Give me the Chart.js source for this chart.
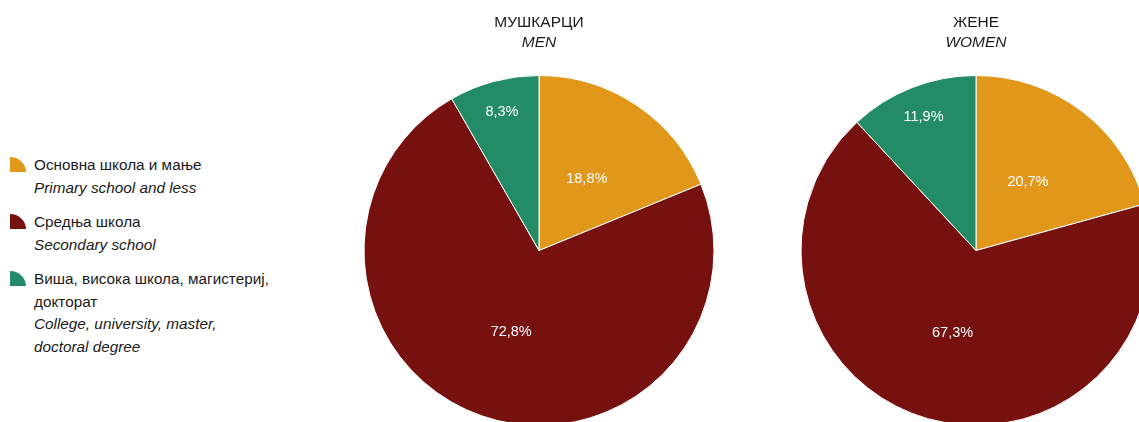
<!DOCTYPE html>
<html>
<head>
<meta charset="utf-8">
<script src="https://cdn.jsdelivr.net/npm/chart.js@4"></script>
<style>
  html, body { margin: 0; padding: 0; width: 1139px; height: 422px; overflow: hidden; background: #fff; }
  body { position: relative; font-family: "Liberation Sans", Arial, sans-serif; color: #1a1a1a; }
  .pie { position: absolute; top: 0; }
  #legenda { position: absolute; left: 10px; top: 154px; font-size: 15.3px; line-height: 22.5px; }
  .stavka { position: relative; padding-left: 24px; margin-bottom: 12px; }
  .ikona { position: absolute; left: 0; top: 3px; width: 16px; height: 15px; border-top-right-radius: 100% 100%; }
  .it { font-style: italic; }
</style>
</head>
<body>
<div id="legenda"></div>
<canvas id="pie-men" class="pie" width="352" height="426" style="left:363px"></canvas>
<canvas id="pie-women" class="pie" width="352" height="426" style="left:800px"></canvas>
<script>
const kategorije = ["Основна школа и мање", "Средња школа", "Виша, висока школа, магистериј, докторат"];
const kategorijeEn = ["Primary school and less", "Secondary school", "College, university, master, doctoral degree"];
const muskarci = [18.8, 72.8, 8.3];
const zene = [20.7, 67.3, 11.9];
const boje = ["#E0971A", "#76110F", "#238B66"];

const FONT = '"Liberation Sans", Arial, sans-serif';

document.addEventListener("DOMContentLoaded", function () {
  const legenda = document.getElementById("legenda");
  // rucni prelomi redova kao na originalu
  const prelomi = [null, null, ["Виша, висока школа, магистериј,", "докторат"]];
  const prelomiEn = [null, null, ["College, university, master,", "doctoral degree"]];
  kategorije.forEach((naziv, i) => {
    const div = document.createElement("div");
    div.className = "stavka";
    const sr = prelomi[i] ? prelomi[i].join("<br>") : naziv;
    const en = prelomiEn[i] ? prelomiEn[i].join("<br>") : kategorijeEn[i];
    div.innerHTML = `<span class="ikona" style="background:${boje[i]}"></span>
      <div>${sr}</div><div class="it">${en}</div>`;
    legenda.appendChild(div);
  });

  const oznake = {
    id: "oznake",
    afterDatasetsDraw(chart) {
      const ctx = chart.ctx;
      const meta = chart.getDatasetMeta(0);
      ctx.save();
      ctx.fillStyle = "#fff";
      ctx.font = "14.5px " + FONT;
      ctx.textAlign = "center";
      ctx.textBaseline = "middle";
      meta.data.forEach((arc, i) => {
        const v = chart.data.datasets[0].data[i];
        const ugao = (arc.startAngle + arc.endAngle) / 2;
        const r = arc.outerRadius * (v < 15 ? 0.82 : 0.49);
        ctx.fillText(v.toFixed(1).replace(".", ",") + "%", arc.x + Math.cos(ugao) * r, arc.y + Math.sin(ugao) * r);
      });
      ctx.restore();
    },
  };

  function napraviPitu(id, podaci, naslov, podnaslov) {
    new Chart(document.getElementById(id), {
      type: "pie",
      data: {
        labels: kategorije,
        datasets: [{
          data: podaci,
          backgroundColor: boje,
          borderColor: "#fff",
          borderWidth: 1,
        }],
      },
      options: {
        responsive: false,
        animation: false,
        layout: { padding: 0 },
        plugins: {
          legend: { display: false },
          tooltip: { enabled: false },
          title: {
            display: true,
            text: naslov,
            color: "#1a1a1a",
            font: { family: FONT, size: 15.5, weight: "normal", lineHeight: 1.2 },
            padding: { top: 13, bottom: 2 },
          },
          subtitle: {
            display: true,
            text: podnaslov,
            color: "#1a1a1a",
            font: { family: FONT, size: 15.5, style: "italic", lineHeight: 1.2 },
            padding: { top: 0, bottom: 22.8 },
          },
        },
      },
      plugins: [oznake],
    });
  }

  napraviPitu("pie-men", muskarci, "МУШКАРЦИ", "MEN");
  napraviPitu("pie-women", zene, "ЖЕНЕ", "WOMEN");
});
</script>
</body>
</html>
